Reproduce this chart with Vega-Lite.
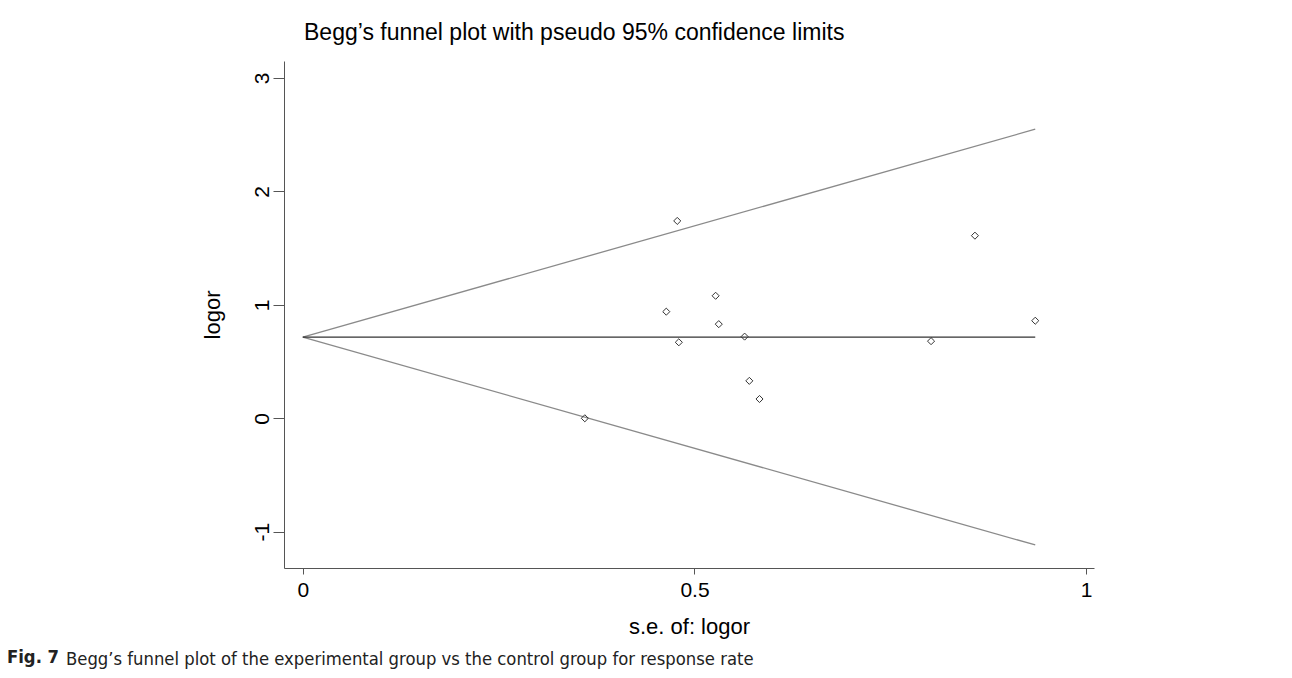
{
  "$schema": "https://vega.github.io/schema/vega-lite/v6.json",
  "background": "white",
  "padding": {"left": 7, "top": 22, "right": 10, "bottom": 4},
  "config": {
    "view": {"stroke": null},
    "font": "Liberation Sans",
    "axis": {
      "grid": false,
      "domainColor": "#555555",
      "tickColor": "#555555",
      "labelColor": "#000000",
      "titleColor": "#000000",
      "labelFontSize": 21,
      "titleFontSize": 22,
      "titleFontWeight": "normal",
      "labelFont": "Liberation Sans",
      "titleFont": "Liberation Sans"
    }
  },
  "title": {
    "text": "Fig. 7",
    "orient": "bottom",
    "anchor": "start",
    "frame": "bounds",
    "font": "DejaVu Sans Condensed, Liberation Sans",
    "fontSize": 18.3,
    "fontWeight": "bold",
    "color": "#222222",
    "offset": -19.5,
    "dx": -59
  },
  "vconcat": [
    {
      "title": {
        "text": "Begg’s funnel plot of the experimental group vs the control group for response rate",
        "orient": "bottom",
        "anchor": "start",
        "frame": "bounds",
        "font": "DejaVu Sans Condensed, Liberation Sans",
        "fontSize": 18.3,
        "fontWeight": "normal",
        "color": "#222222",
        "offset": 14,
        "dx": -135
      },
      "vconcat": [
        {
          "title": {
            "text": "Begg’s funnel plot with pseudo 95% confidence limits",
            "anchor": "start",
            "frame": "group",
            "font": "Liberation Sans",
            "fontSize": 23,
            "fontWeight": "normal",
            "color": "#000000",
            "dx": 20,
            "offset": 16
          },
          "width": 810,
          "height": 507,
          "layer": [
            {
              "data": {
                "values": [
                  {"se": 0, "lim": 0.716, "line": "upper"},
                  {"se": 0.935, "lim": 2.549, "line": "upper"},
                  {"se": 0, "lim": 0.716, "line": "lower"},
                  {"se": 0.935, "lim": -1.117, "line": "lower"},
                  {"se": 0, "lim": 0.716, "line": "center"},
                  {"se": 0.935, "lim": 0.716, "line": "center"}
                ]
              },
              "mark": {"type": "line", "strokeWidth": 1.3},
              "encoding": {
                "x": {"field": "se", "type": "quantitative", "scale": {"domain": [-0.024, 1.01], "nice": false, "zero": false},
                  "axis": {"title": "s.e. of: logor", "values": [0, 0.5, 1], "labelExpr": "'' + datum.value", "tickSize": 6, "labelPadding": 5, "titlePadding": 16}},
                "y": {"field": "lim", "type": "quantitative", "scale": {"domain": [-1.32, 3.15], "nice": false, "zero": false},
                  "axis": {"title": "logor", "values": [-1, 0, 1, 2, 3], "labelExpr": "'' + datum.value", "labelAngle": -90, "labelAlign": "center", "labelBaseline": "alphabetic", "tickSize": 11, "labelPadding": 5, "titlePadding": 27}},
                "color": {"field": "line", "type": "nominal", "legend": null,
                  "scale": {"domain": ["upper", "lower", "center"], "range": ["#8a8a8a", "#8a8a8a", "#333333"]}},
                "detail": {"field": "line"}
              }
            },
            {
              "data": {
                "values": [
                  {"se": 0.360, "logor": 0.00},
                  {"se": 0.464, "logor": 0.94},
                  {"se": 0.478, "logor": 1.74},
                  {"se": 0.480, "logor": 0.67},
                  {"se": 0.527, "logor": 1.08},
                  {"se": 0.531, "logor": 0.83},
                  {"se": 0.564, "logor": 0.72},
                  {"se": 0.570, "logor": 0.33},
                  {"se": 0.583, "logor": 0.17},
                  {"se": 0.802, "logor": 0.68},
                  {"se": 0.858, "logor": 1.61},
                  {"se": 0.935, "logor": 0.86}
                ]
              },
              "mark": {"type": "point", "shape": "diamond", "filled": false, "size": 50, "stroke": "#333333", "strokeWidth": 1, "opacity": 1},
              "encoding": {
                "x": {"field": "se", "type": "quantitative"},
                "y": {"field": "logor", "type": "quantitative"}
              }
            }
          ]
        }
      ]
    }
  ]
}
